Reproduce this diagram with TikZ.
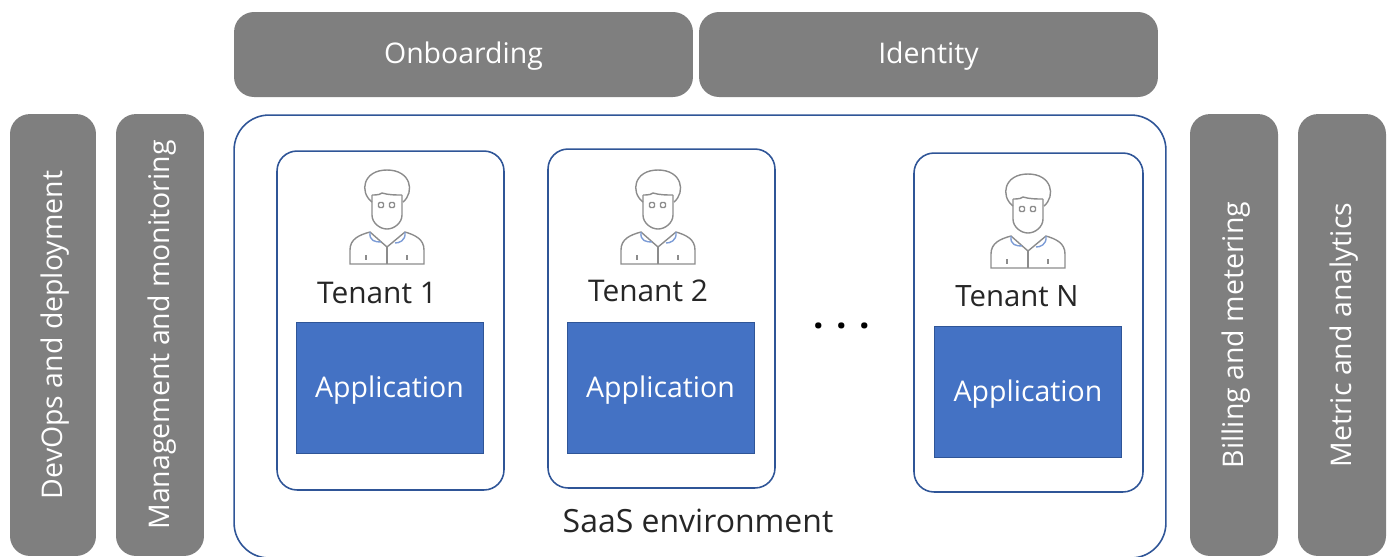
\documentclass[tikz,border=0pt]{standalone}
\usepackage{fontspec}
\setmainfont{Open Sans}
\definecolor{barGray}{HTML}{7F7F7F}
\definecolor{appBlue}{HTML}{4472C4}
\definecolor{edgeBlue}{HTML}{2F5597}
\tikzset{
    tenantIcon/.pic = {
        \draw[iconLine] (-15, -15) .. controls (-28, -25) and (-24, -47) .. (0, -47)
            .. controls (24, -47) and (28, -25) .. (16, -15);
        \draw[iconLine] (-15, -22) -- (-15, -2) .. controls (-15, 6) and (-7, 12) .. (0, 12)
            .. controls (7, 12) and (15, 6) .. (15, -2) -- (15, -22);
        \draw[iconLine] (-15, -22) .. controls (-8, -22) and (-6, -23) .. (-5, -24)
            .. controls (2, -22) and (8, -22) .. (15, -22);
        \draw[iconLine, rounded corners = 0.6pt] (-8.5, -14.5) rectangle (-3.5, -9.5);
        \draw[iconLine, rounded corners = 0.6pt] (2.5, -14.5) rectangle (7.5, -9.5);
        \draw[iconLine] (-37, 47) -- (-37, 33) .. controls (-37, 22) and (-28, 18) .. (-17, 15)
            -- (0, 30) -- (18, 15) .. controls (28, 18) and (37, 22) .. (37, 33)
            -- (37, 47) -- cycle;
        \draw[iconLine] (0, 30) -- (0, 47);
        \draw[iconLine] (-21, 38) -- (-21, 43);
        \draw[iconLine] (20, 38) -- (20, 43);
        \draw[collarLine] (-17, 15) .. controls (-18, 24) and (-12, 25) .. (-6, 25);
        \draw[collarLine] (18, 15) .. controls (19, 24) and (12, 26) .. (8, 26);
    }
}
\begin{document}
\begin{tikzpicture}[x = 0.02cm, y = -0.02cm]
    \useasboundingbox (0, 0) rectangle (1387, 556);

    \tikzstyle{bar} = [rectangle, fill = barGray, rounded corners = 0.4cm, text = white, inner sep = 0pt, text depth = 2pt, font = \fontsize{16.2}{20}\selectfont]
    \tikzstyle{sidebar} = [bar, rotate = 90, minimum width = 8.84cm, minimum height = 1.76cm]
    \tikzstyle{topbar} = [bar, minimum width = 9.18cm, minimum height = 1.7cm]
    \tikzstyle{tenantbox} = [rectangle, draw = edgeBlue, line width = 0.9pt, rounded corners = 0.4cm, minimum width = 4.54cm, minimum height = 6.78cm]
    \tikzstyle{app} = [rectangle, fill = appBlue, draw = edgeBlue, line width = 0.4pt, text = white, minimum width = 3.74cm, minimum height = 2.62cm, text depth = 1.5pt, font = \fontsize{16.2}{20}\selectfont]
    \tikzstyle{caption} = [font = \fontsize{17}{20}\selectfont, text = black!85]
    \tikzstyle{iconLine} = [draw = black!45, line width = 0.8pt]
    \tikzstyle{collarLine} = [draw = appBlue!70, line width = 0.8pt]

    \node[topbar] (onboarding) at (463.5, 54.5) {Onboarding};
    \node[topbar] (identity) at (928.5, 54.5) {Identity};

    \node[sidebar, minimum height = 1.72cm] (devops) at (53, 335) {DevOps and deployment};
    \node[sidebar] (monitoring) at (160, 335) {Management and monitoring};
    \node[sidebar] (billing) at (1234, 335) {Billing and metering};
    \node[sidebar] (metric) at (1342, 335) {Metric and analytics};

    \node[rectangle, draw = edgeBlue, line width = 0.9pt, rounded corners = 0.7cm, minimum width = 18.64cm, minimum height = 8.86cm] (saas) at (700, 336.5) {};
    \node[caption, font = \fontsize{18.2}{20}\selectfont] (saaslabel) at (698, 521) {SaaS environment};

    \node[tenantbox] (box1) at (390.5, 320.5) {};
    \node[tenantbox] (box2) at (661.5, 318.5) {};
    \node[tenantbox, minimum width = 4.58cm] (boxN) at (1028.5, 322.5) {};

    \pic at (387, 217) {tenantIcon};
    \pic at (658, 217) {tenantIcon};
    \pic at (1028, 221) {tenantIcon};

    \node[caption] (tenant1) at (377, 293) {Tenant 1};
    \node[caption] (tenant2) at (648, 291) {Tenant 2};
    \node[caption, font = \fontsize{16.7}{20}\selectfont] (tenantN) at (1017, 296) {Tenant N};

    \node[app] (app1) at (389.5, 388) {Application};
    \node[app] (app2) at (660.5, 388) {Application};
    \node[app] (appN) at (1028, 392) {Application};

    \node[font = \fontsize{21}{24}\selectfont\bfseries, text = black] (dots) at (842, 326) {.\,\,.\,\,.};
\end{tikzpicture}
\end{document}
